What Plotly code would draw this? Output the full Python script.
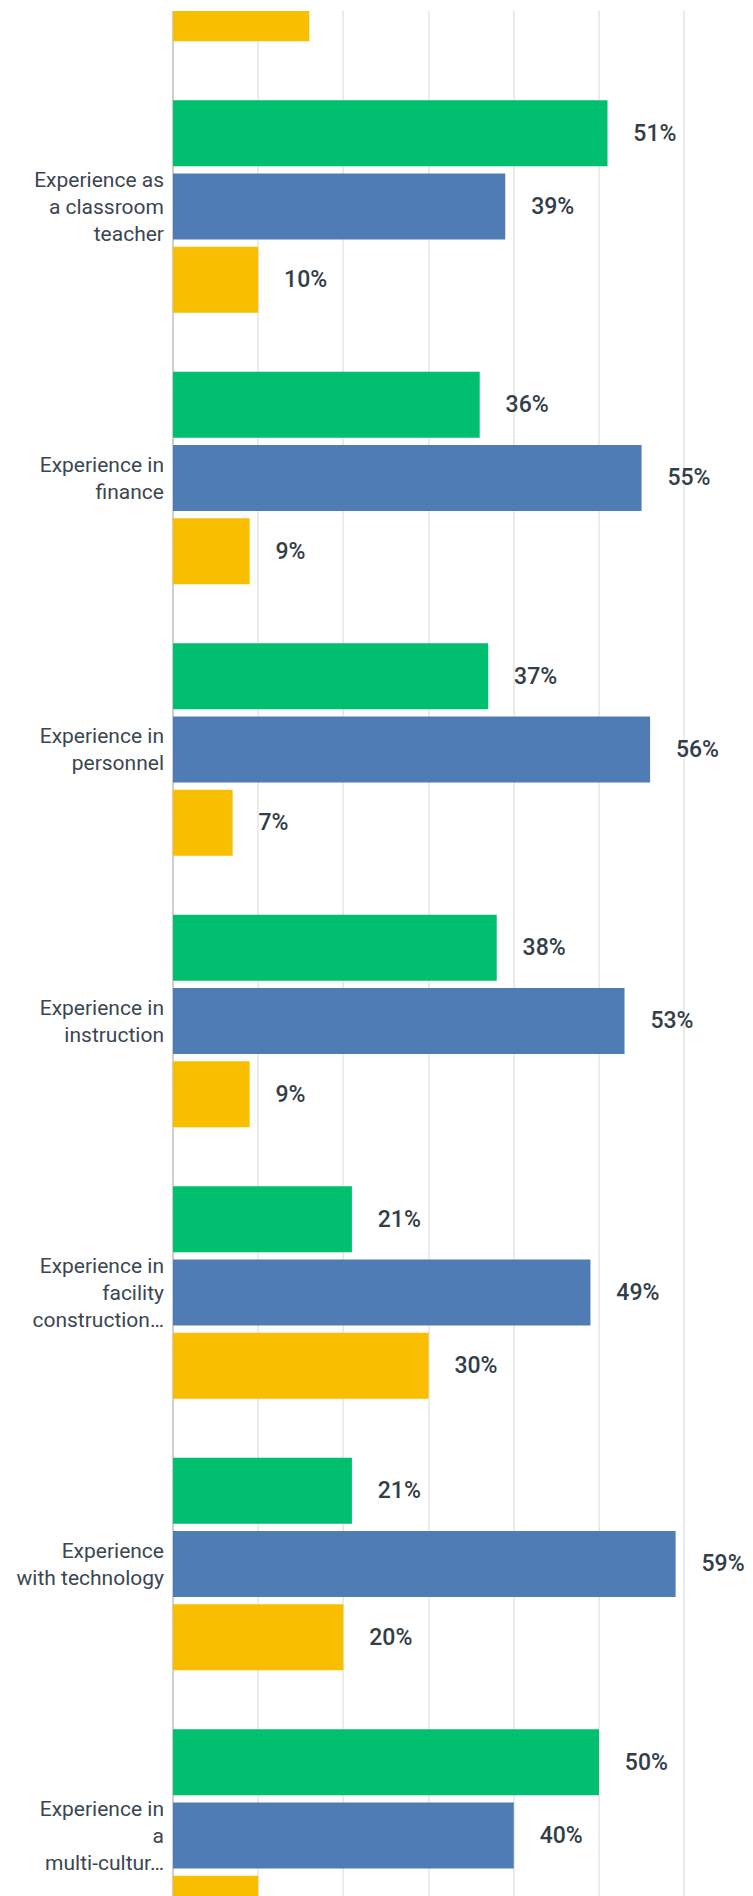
import plotly.graph_objects as go

categories = [
    "Experience as a principal",
    "Experience as<br>a classroom<br>teacher",
    "Experience in<br>finance",
    "Experience in<br>personnel",
    "Experience in<br>instruction",
    "Experience in<br>facility<br>construction…",
    "Experience<br>with technology",
    "Experience in<br>a<br>multi-cultur…",
]
green_vals = [None, 51, 36, 37, 38, 21, 21, 50]
blue_vals = [None, 39, 55, 56, 53, 49, 59, 40]
yellow_vals = [16, 10, 9, 7, 9, 30, 20, 10]

series = [
    ("Green", green_vals, "#00BF6F"),
    ("Blue", blue_vals, "#507CB6"),
    ("Yellow", yellow_vals, "#F9BE00"),
]

PAD = "\u00a0" * 4

fig = go.Figure()
for name, vals, color in series:
    fig.add_trace(go.Bar(
        name=name,
        y=categories,
        x=vals,
        orientation="h",
        marker=dict(color=color, line=dict(width=0)),
        text=[("" if v is None else f"{PAD}{v}%") for v in vals],
        textposition="outside",
        cliponaxis=False,
        constraintext="none",
        textfont=dict(family="Roboto", size=23, color="#333e48", weight=500),
        hoverinfo="skip",
    ))

fig.update_layout(
    width=745,
    height=1888,
    margin=dict(l=165, r=0, t=3, b=0, autoexpand=False),
    barmode="group",
    bargap=0.19,
    bargroupgap=0.1,
    showlegend=False,
    paper_bgcolor="white",
    plot_bgcolor="white",
    font=dict(family="Roboto", color="#333e48"),
)
fig.update_xaxes(
    range=[0, 68.08],
    dtick=10,
    showgrid=True,
    gridcolor="#ebebeb",
    gridwidth=1.5,
    zeroline=True,
    zerolinecolor="#cfcfcf",
    zerolinewidth=1.5,
    showticklabels=False,
    ticks="",
    automargin=False,
)
fig.update_yaxes(
    type="category",
    categoryorder="array",
    categoryarray=categories,
    range=[7.223, 0.28],
    showgrid=False,
    zeroline=False,
    showline=False,
    ticks="",
    ticklabelstandoff=8,
    tickfont=dict(family="Roboto", size=21, color="#3b4651"),
    automargin=False,
)

fig.write_html("out.html")
